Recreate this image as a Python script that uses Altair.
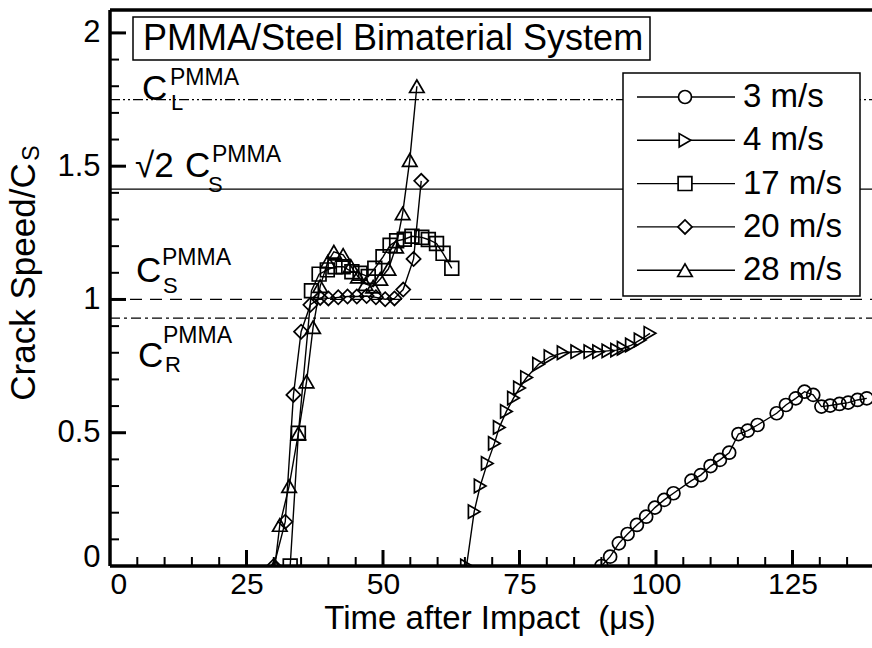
import math
import altair as alt
import pandas as pd

# ---- crack-tip speed histories (time in microseconds, speed / C_S) ----
series_labels = ["3 m/s", "4 m/s", "17 m/s", "20 m/s", "28 m/s"]
series_shapes = ["circle", "triangle-right", "square", "diamond", "triangle-up"]
series_sizes = [169, 210, 140, 200, 210]

t_3 = [90.0, 91.6, 93.2, 94.8, 96.5, 98.2, 99.8, 101.5, 103.2, 106.5, 108.2, 110.0,
       111.7, 113.4, 115.1, 116.8, 118.6, 122.1, 123.8, 125.6, 127.2, 128.8, 130.3,
       131.9, 133.6, 135.2, 136.9, 138.6]
v_3 = [0.0, 0.035, 0.085, 0.12, 0.154, 0.185, 0.219, 0.248, 0.273, 0.32, 0.341, 0.375,
       0.398, 0.425, 0.495, 0.508, 0.529, 0.573, 0.604, 0.629, 0.654, 0.642, 0.598,
       0.602, 0.608, 0.613, 0.623, 0.629]

t_4 = [65.3, 66.7, 67.8, 69.1, 70.4, 71.3, 72.6, 73.9, 75.0, 76.3, 78.5, 80.6, 83.0,
       85.5, 87.9, 89.5, 91.2, 92.8, 94.0, 95.5, 97.1, 98.9]
v_4 = [0.0, 0.204, 0.30, 0.385, 0.46, 0.52, 0.58, 0.63, 0.668, 0.707, 0.757, 0.785, 0.80,
       0.804, 0.804, 0.804, 0.807, 0.81, 0.817, 0.829, 0.848, 0.873]

t_17 = [33.0, 34.5, 36.9, 38.3, 39.8, 41.2, 42.7, 44.3, 45.8, 47.3, 48.5, 50.0, 51.3,
        52.5, 53.9, 55.3, 57.1, 58.3, 59.8, 61.0, 62.6]
v_17 = [0.0, 0.498, 1.033, 1.095, 1.111, 1.123, 1.123, 1.104, 1.098, 1.086, 1.117, 1.16,
        1.203, 1.22, 1.226, 1.237, 1.233, 1.225, 1.21, 1.173, 1.117]

t_20 = [30.0, 32.1, 33.6, 35.0, 36.7, 38.5, 40.0, 41.8, 43.5, 45.2, 47.0, 48.7, 50.4,
        52.1, 53.7, 55.6, 57.0]
v_20 = [0.0, 0.166, 0.642, 0.879, 0.98, 1.006, 1.004, 1.008, 1.011, 1.011, 1.013, 1.008,
        1.001, 1.004, 1.037, 1.152, 1.445]

t_28 = [30.2, 31.1, 32.8, 34.5, 36.0, 37.2, 38.5, 39.9, 41.0, 42.7, 44.1, 45.4, 46.8,
        48.2, 49.5, 51.0, 52.4, 53.6, 54.9, 56.2]
v_28 = [0.0, 0.154, 0.30, 0.498, 0.692, 0.896, 1.05, 1.142, 1.179, 1.167, 1.126, 1.086,
        1.058, 1.048, 1.077, 1.115, 1.198, 1.323, 1.523, 1.80]

# characteristic wave speeds of PMMA, normalised by C_S
c_long = 1.75
c_sqrt2 = math.sqrt(2)
c_shear = 1.0
c_rayleigh = 0.93

# axis tick values
x_major = [0, 25, 50, 75, 100, 125]
x_minor = [5, 10, 15, 20, 30, 35, 40, 45, 55, 60, 65, 70, 80, 85, 90, 95, 105, 110,
           115, 120, 130, 135]
y_major = [0, 0.5, 1, 1.5, 2]
y_minor = [0.1, 0.2, 0.3, 0.4, 0.6, 0.7, 0.8, 0.9, 1.1, 1.2, 1.3, 1.4, 1.6, 1.7,
           1.8, 1.9, 2.0]

# ---- layout ----
W, H = 762, 556
X_MAX = 139.56
Y_MAX = 2.086
FONT = "Liberation Sans"

rows = []
for lab, ts, vs in zip(series_labels, [t_3, t_4, t_17, t_20, t_28],
                       [v_3, v_4, v_17, v_20, v_28]):
    for i, (t, v) in enumerate(zip(ts, vs)):
        rows.append({"series": lab, "t": t, "v": v, "idx": i})
df = pd.DataFrame(rows)

xs = alt.Scale(domain=[0, X_MAX], nice=False, zero=False)
ys = alt.Scale(domain=[0, Y_MAX], nice=False, zero=False)
shape_scale = alt.Scale(domain=series_labels, range=series_shapes)
size_scale = alt.Scale(domain=series_labels, range=series_sizes)

x_axis = alt.Axis(values=x_major, ticks=False, domain=False, grid=False, title=None,
                  labelFont=FONT, labelFontSize=30, labelColor="black", labelPadding=3,
                  labelFlush=False, labelExpr="datum.value + ''",
                  labelAlign={"condition": {"test": "datum.value == 0", "value": "left"},
                              "value": "center"})
y_axis = alt.Axis(values=y_major, ticks=False, domain=False, grid=False, title=None,
                  labelFont=FONT, labelFontSize=31, labelColor="black", labelPadding=10,
                  labelFlush=False, labelExpr="datum.value + ''",
                  labelBaseline={"condition": {"test": "datum.value == 0",
                                               "value": "alphabetic"},
                                 "value": "middle"})

X = lambda f: alt.X(f, scale=xs, axis=x_axis)
Y = lambda f: alt.Y(f, scale=ys, axis=y_axis)


def one(**kw):
    return pd.DataFrame({k: [v] for k, v in kw.items()} or {"k": [0]})


layers = []

# reference wave-speed lines
for val, dash in [(c_long, [10, 3, 2, 3, 2, 3]), (c_sqrt2, [1, 0]),
                  (c_shear, [12, 8]), (c_rayleigh, [10, 4, 3, 4])]:
    layers.append(
        alt.Chart(one(v=val)).mark_rule(stroke="black", strokeWidth=1.2, strokeDash=dash)
        .encode(y=Y("v:Q"), x=alt.value(0), x2=alt.value(W))
    )

# crack speed histories
layers.append(
    alt.Chart(df).mark_line(stroke="black", strokeWidth=1.4, clip=True)
    .encode(x=X("t:Q"), y=Y("v:Q"), detail="series:N", order="idx:Q")
)
layers.append(
    alt.Chart(df).mark_point(filled=False, stroke="black", strokeWidth=1.7, opacity=1,
                             clip=True)
    .encode(x=X("t:Q"), y=Y("v:Q"),
            shape=alt.Shape("series:N", scale=shape_scale, legend=None),
            size=alt.Size("series:N", scale=size_scale, legend=None))
)

# inward ticks
for vals, ln, sw in [(x_major[1:], 16, 3), (x_minor, 9, 2)]:
    layers.append(
        alt.Chart(pd.DataFrame({"t": vals})).mark_rule(stroke="black", strokeWidth=sw)
        .encode(x=X("t:Q"), y=alt.value(H), y2=alt.value(H - ln))
    )
for vals, ln, sw in [(y_major[1:], 16, 3), (y_minor, 9, 2)]:
    layers.append(
        alt.Chart(pd.DataFrame({"v": vals})).mark_rule(stroke="black", strokeWidth=sw)
        .encode(y=Y("v:Q"), x=alt.value(0), x2=alt.value(ln))
    )

# frame: top, left, bottom
for enc in [dict(x=alt.value(0), x2=alt.value(W), y=alt.value(0)),
            dict(x=alt.value(0), y=alt.value(0), y2=alt.value(H)),
            dict(x=alt.value(0), x2=alt.value(W), y=alt.value(H))]:
    layers.append(alt.Chart(one()).mark_rule(stroke="black", strokeWidth=3.5).encode(**enc))


def txt(s, x, y, size, align="left", baseline="alphabetic", angle=0):
    return (alt.Chart(one(s=s))
            .mark_text(font=FONT, fontSize=size, color="black", align=align,
                       baseline=baseline, angle=angle)
            .encode(text="s:N", x=alt.value(x), y=alt.value(y)))


# title box
layers.append(alt.Chart(one()).mark_rect(fill="white", stroke="black", strokeWidth=1.5)
              .encode(x=alt.value(23), x2=alt.value(540), y=alt.value(7), y2=alt.value(50)))
layers.append(txt("PMMA/Steel Bimaterial System", 33, 40, 36))

# wave-speed labels
layers += [txt("C", 32, 90, 35), txt("PMMA", 60, 75, 23), txt("L", 61, 100, 22)]
layers += [txt("√2", 25, 167, 35), txt("C", 75, 167, 35), txt("PMMA", 102, 152, 23),
           txt("S", 98, 182, 22)]
layers += [txt("C", 26, 272, 35), txt("PMMA", 52, 255, 23), txt("S", 53, 283, 22)]
layers += [txt("C", 28, 357, 35), txt("PMMA", 53, 333, 23), txt("R", 55, 362, 22)]

# legend
LX0, LX1, LY0, LY1 = 513, 750, 63, 286
layers.append(alt.Chart(one()).mark_rect(fill="white", stroke="black", strokeWidth=1.5)
              .encode(x=alt.value(LX0), x2=alt.value(LX1), y=alt.value(LY0),
                      y2=alt.value(LY1)))
for i, lab in enumerate(series_labels):
    ry = 87 + 43.3 * i
    layers.append(alt.Chart(one(series=lab)).mark_rule(stroke="black", strokeWidth=1.4)
                  .encode(x=alt.value(527), x2=alt.value(625), y=alt.value(ry)))
    layers.append(
        alt.Chart(one(series=lab)).mark_point(filled=True, fill="white", stroke="black",
                                              strokeWidth=1.7, opacity=1)
        .encode(x=alt.value(575), y=alt.value(ry),
                shape=alt.Shape("series:N", scale=shape_scale, legend=None),
                size=alt.Size("series:N", scale=size_scale, legend=None))
    )
    layers.append(txt(lab, 633, ry, 33, baseline="middle"))

# axis titles
layers.append(txt("Time after Impact \u00a0(μs)", 380, 609, 33, align="center",
                  baseline="middle"))
layers.append(txt("Crack Speed/C", -86, 272, 35, align="center", baseline="middle",
                  angle=270))
layers.append(txt("S", -78, 143, 23, align="center", baseline="middle", angle=270))

chart = (
    alt.layer(*layers)
    .properties(width=W, height=H, autosize=alt.AutoSizeParams(type="none"),
                padding={"left": 110, "top": 10, "right": 0, "bottom": 82},
                background="white")
    .configure_view(stroke=None)
)

chart.save("out.html", embed_options={"renderer": "svg", "actions": False})
